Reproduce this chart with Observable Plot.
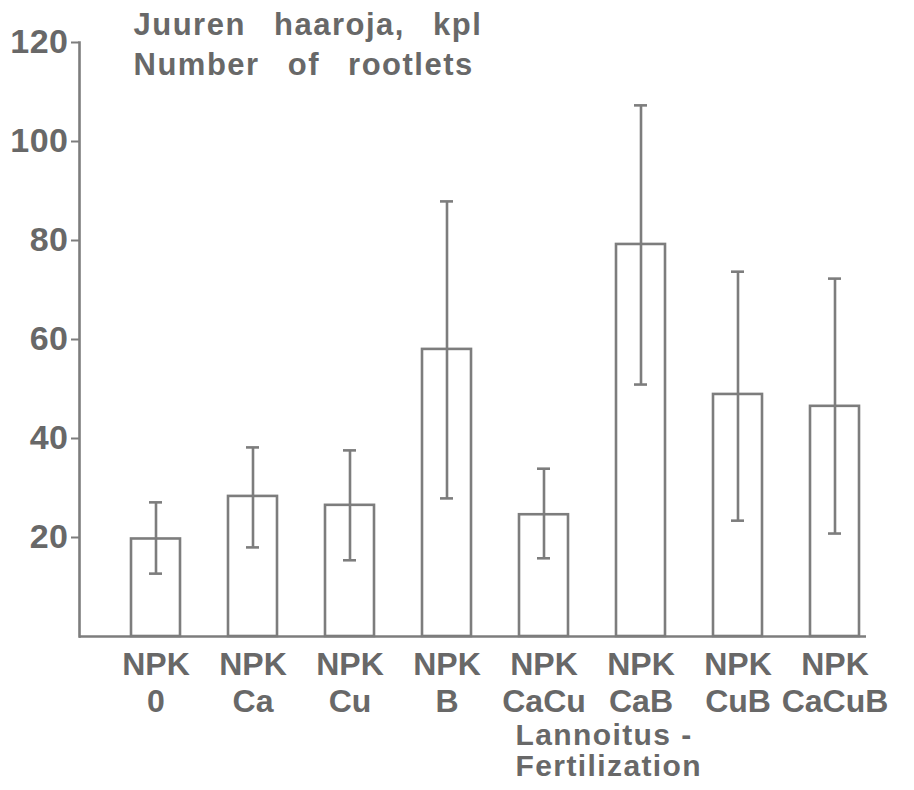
<!DOCTYPE html>
<html>
<head>
<meta charset="utf-8">
<script src="https://cdn.jsdelivr.net/npm/d3@7"></script>
<script src="https://cdn.jsdelivr.net/npm/@observablehq/plot@0.6"></script>
<style>
  html, body { margin: 0; padding: 0; background: #ffffff; }
  #chart svg { display: block; }
</style>
</head>
<body>
<div id="chart"></div>
<script>
// Treatments (second line of the category labels)
const treatments = ["0", "Ca", "Cu", "B", "CaCu", "CaB", "CuB", "CaCuB"];
// Mean number of rootlets
const means = [19.7, 28.3, 26.5, 58, 24.6, 79.2, 48.9, 46.5];
// Error bar limits
const lows  = [12.7, 18.0, 15.4, 27.9, 15.8, 50.9, 23.4, 20.8];
const highs = [27.1, 38.2, 37.6, 87.9, 33.9, 107.3, 73.7, 72.3];
// Y tick values
const yTicks = [20, 40, 60, 80, 100, 120];
const titleText = "Juuren haaroja, kpl\nNumber of rootlets";
const xTitleText = "Lannoitus -\nFertilization";

const data = treatments.map((t, i) => ({t, mean: means[i], lo: lows[i], hi: highs[i]}));

const ink = "#7d7d7d";
const textInk = "#686868";
const font = "'Liberation Sans', Arial, Helvetica, sans-serif";

const chart = Plot.plot({
  width: 914,
  height: 790,
  marginTop: 42,
  marginBottom: 154,
  marginLeft: 79,
  marginRight: 48,
  style: {fontFamily: font, color: textInk, background: "#ffffff"},
  x: {domain: treatments, range: [104.15, 885.85], paddingInner: 0.49, paddingOuter: 0.245, axis: null},
  y: {domain: [0, 120], axis: null},
  marks: [
    Plot.barY(data, {x: "t", y: "mean", fill: "white", stroke: ink, strokeWidth: 2.6}),
    Plot.ruleX(data, {x: "t", y1: "lo", y2: "hi", stroke: ink, strokeWidth: 2.6}),
    Plot.tickY(data, {x: "t", y: "lo", stroke: ink, strokeWidth: 2.6, insetLeft: 18, insetRight: 18}),
    Plot.tickY(data, {x: "t", y: "hi", stroke: ink, strokeWidth: 2.6, insetLeft: 18, insetRight: 18}),
    Plot.frame({anchor: "left", stroke: ink, strokeWidth: 2.6}),
    Plot.ruleY([0], {stroke: ink, strokeWidth: 2.6}),
    Plot.axisY({ticks: yTicks, tickSize: 8, tickPadding: 3, fontSize: 34, fontWeight: "bold", label: null, stroke: ink, strokeWidth: 2, fill: textInk}),
    Plot.text(treatments, {
      x: d => d, text: d => "NPK\n" + d,
      frameAnchor: "bottom", lineAnchor: "top", dy: 12, lineHeight: 1.16,
      fontSize: 32, fontWeight: "bold", fill: textInk
    }),
    Plot.text([titleText], {
      text: d => d, frameAnchor: "top-left", textAnchor: "start", lineAnchor: "bottom",
      dx: 54, dy: 32, lineHeight: 1.26, fontSize: 31, fontWeight: "bold", fill: textInk
    }),
    Plot.text([xTitleText], {
      text: d => d, frameAnchor: "bottom-left", textAnchor: "start", lineAnchor: "bottom",
      dx: 436, dy: 139, lineHeight: 1.03, fontSize: 30, fontWeight: "bold", fill: textInk
    })
  ]
});
// Typographic spacing to mimic the wide-set original lettering
d3.select(chart).selectAll("text").each(function() {
  const s = this.textContent;
  if (s.startsWith("Juuren")) {
    d3.select(this).attr("letter-spacing", "1.5px").attr("word-spacing", "18px");
  } else if (s.startsWith("Lannoitus")) {
    d3.select(this).attr("letter-spacing", "1.4px");
  }
});
d3.select(chart).selectAll("g[aria-label='y-axis tick label'] text").attr("letter-spacing", "0.5px");
document.getElementById("chart").appendChild(chart);
</script>
</body>
</html>
